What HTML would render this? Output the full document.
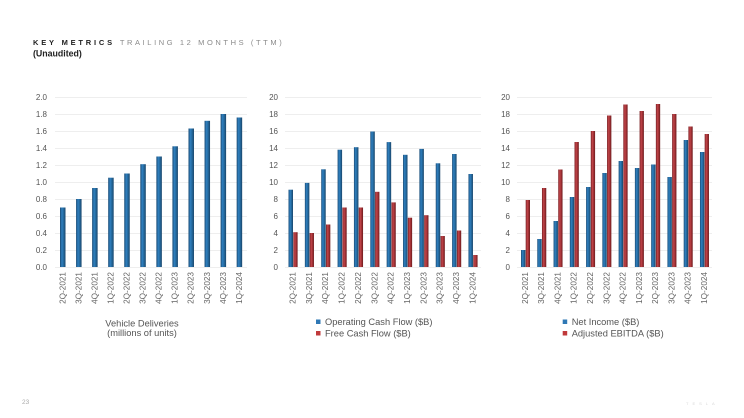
<!DOCTYPE html>
<html><head><meta charset="utf-8"><style>
html,body{margin:0;padding:0;background:#fff;}
body{width:744px;height:418px;overflow:hidden;font-family:"Liberation Sans",sans-serif;}
svg{display:block;}
</style></head><body>
<svg width="744" height="418" viewBox="0 0 744 418" xmlns="http://www.w3.org/2000/svg" font-family="Liberation Sans, sans-serif">
<defs>
<linearGradient id="gb" x1="0" x2="1" y1="0" y2="0">
<stop offset="0" stop-color="#1b4a72"/><stop offset="0.35" stop-color="#2f80c0"/><stop offset="0.7" stop-color="#236597"/><stop offset="1" stop-color="#194469"/>
</linearGradient>
<linearGradient id="gr" x1="0" x2="1" y1="0" y2="0">
<stop offset="0" stop-color="#741d20"/><stop offset="0.35" stop-color="#c2454a"/><stop offset="0.7" stop-color="#9b2e32"/><stop offset="1" stop-color="#6a1a1c"/>
</linearGradient>
</defs>

<!-- Title -->
<text x="33" y="45" font-size="7.5" font-weight="bold" fill="#222" letter-spacing="2.8">KEY METRICS <tspan font-weight="normal" fill="#8a8a8a" letter-spacing="2.6">TRAILING 12 MONTHS (TTM)</tspan></text>
<text x="33" y="56.5" font-size="8.8" font-weight="bold" fill="#222">(Unaudited)</text>

<!-- Gridlines -->
<g stroke="#eeeeee" stroke-width="1">
<path d="M55 97.5H247M55 114.5H247M55 131.5H247M55 148.5H247M55 165.5H247M55 182.5H247M55 199.5H247M55 216.5H247M55 233.5H247M55 250.5H247M55 267.5H247"/>
<path d="M285 97.5H481M285 114.5H481M285 131.5H481M285 148.5H481M285 165.5H481M285 182.5H481M285 199.5H481M285 216.5H481M285 233.5H481M285 250.5H481M285 267.5H481"/>
<path d="M517 97.5H712M517 114.5H712M517 131.5H712M517 148.5H712M517 165.5H712M517 182.5H712M517 199.5H712M517 216.5H712M517 233.5H712M517 250.5H712M517 267.5H712"/>
</g>

<!-- Y labels -->
<g font-size="8" fill="#555" text-anchor="end" dominant-baseline="central">
<text x="47" y="97.5">2.0</text><text x="47" y="114.5">1.8</text><text x="47" y="131.5">1.6</text><text x="47" y="148.5">1.4</text><text x="47" y="165.5">1.2</text><text x="47" y="182.5">1.0</text><text x="47" y="199.5">0.8</text><text x="47" y="216.5">0.6</text><text x="47" y="233.5">0.4</text><text x="47" y="250.5">0.2</text><text x="47" y="267.5">0.0</text>
<text x="278" y="97.5">20</text><text x="278" y="114.5">18</text><text x="278" y="131.5">16</text><text x="278" y="148.5">14</text><text x="278" y="165.5">12</text><text x="278" y="182.5">10</text><text x="278" y="199.5">8</text><text x="278" y="216.5">6</text><text x="278" y="233.5">4</text><text x="278" y="250.5">2</text><text x="278" y="267.5">0</text>
<text x="510" y="97.5">20</text><text x="510" y="114.5">18</text><text x="510" y="131.5">16</text><text x="510" y="148.5">14</text><text x="510" y="165.5">12</text><text x="510" y="182.5">10</text><text x="510" y="199.5">8</text><text x="510" y="216.5">6</text><text x="510" y="233.5">4</text><text x="510" y="250.5">2</text><text x="510" y="267.5">0</text>
</g>

<!-- Chart 1 bars -->
<g fill="url(#gb)">
<rect x="60" y="207.5" width="5.5" height="59.5"/>
<rect x="76.06" y="199" width="5.5" height="68"/>
<rect x="92.12" y="188" width="5.5" height="79"/>
<rect x="108.18" y="177.7" width="5.5" height="89.3"/>
<rect x="124.24" y="173.5" width="5.5" height="93.5"/>
<rect x="140.3" y="164.2" width="5.5" height="102.8"/>
<rect x="156.36" y="156.5" width="5.5" height="110.5"/>
<rect x="172.42" y="146.3" width="5.5" height="120.7"/>
<rect x="188.48" y="128.5" width="5.5" height="138.5"/>
<rect x="204.54" y="120.8" width="5.5" height="146.2"/>
<rect x="220.6" y="114" width="5.5" height="153"/>
<rect x="236.66" y="117.5" width="5.5" height="149.5"/>
</g>

<!-- Chart 2 bars -->
<g fill="url(#gb)">
<rect x="288.5" y="189.7" width="4.5" height="77.3"/>
<rect x="304.86" y="182.9" width="4.5" height="84.1"/>
<rect x="321.22" y="169.3" width="4.5" height="97.7"/>
<rect x="337.58" y="149.7" width="4.5" height="117.3"/>
<rect x="353.94" y="147.2" width="4.5" height="119.8"/>
<rect x="370.3" y="131.5" width="4.5" height="135.5"/>
<rect x="386.66" y="142.1" width="4.5" height="124.9"/>
<rect x="403.02" y="154.8" width="4.5" height="112.2"/>
<rect x="419.38" y="148.9" width="4.5" height="118.1"/>
<rect x="435.74" y="163.3" width="4.5" height="103.7"/>
<rect x="452.1" y="154" width="4.5" height="113"/>
<rect x="468.46" y="174" width="4.5" height="93"/>
</g>
<g fill="url(#gr)">
<rect x="293.3" y="232.2" width="4.3" height="34.8"/>
<rect x="309.66" y="233" width="4.3" height="34"/>
<rect x="326.02" y="224.5" width="4.3" height="42.5"/>
<rect x="342.38" y="207.5" width="4.3" height="59.5"/>
<rect x="358.74" y="207.5" width="4.3" height="59.5"/>
<rect x="375.1" y="191.8" width="4.3" height="75.2"/>
<rect x="391.46" y="202.4" width="4.3" height="64.6"/>
<rect x="407.82" y="217.7" width="4.3" height="49.3"/>
<rect x="424.18" y="215.2" width="4.3" height="51.8"/>
<rect x="440.54" y="236" width="4.3" height="31"/>
<rect x="456.9" y="230.5" width="4.3" height="36.5"/>
<rect x="473.26" y="255" width="4.3" height="12"/>
</g>

<!-- Chart 3 bars -->
<g fill="url(#gb)">
<rect x="521" y="250" width="4.4" height="17"/>
<rect x="537.27" y="239" width="4.4" height="28"/>
<rect x="553.54" y="221" width="4.4" height="46"/>
<rect x="569.81" y="197" width="4.4" height="70"/>
<rect x="586.08" y="187" width="4.4" height="80"/>
<rect x="602.35" y="173" width="4.4" height="94"/>
<rect x="618.62" y="161" width="4.4" height="106"/>
<rect x="634.89" y="168" width="4.4" height="99"/>
<rect x="651.16" y="164.5" width="4.4" height="102.5"/>
<rect x="667.43" y="177" width="4.4" height="90"/>
<rect x="683.7" y="140" width="4.4" height="127"/>
<rect x="699.97" y="152" width="4.4" height="115"/>
</g>
<g fill="url(#gr)">
<rect x="525.7" y="200" width="4.3" height="67"/>
<rect x="541.97" y="188" width="4.3" height="79"/>
<rect x="558.24" y="169.5" width="4.3" height="97.5"/>
<rect x="574.51" y="142" width="4.3" height="125"/>
<rect x="590.78" y="131" width="4.3" height="136"/>
<rect x="607.05" y="115.5" width="4.3" height="151.5"/>
<rect x="623.32" y="104.5" width="4.3" height="162.5"/>
<rect x="639.59" y="111" width="4.3" height="156"/>
<rect x="655.86" y="104" width="4.3" height="163"/>
<rect x="672.13" y="114" width="4.3" height="153"/>
<rect x="688.4" y="126.5" width="4.3" height="140.5"/>
<rect x="704.67" y="134" width="4.3" height="133"/>
</g>

<!-- X tick labels -->
<g font-size="8.2" fill="#666" text-anchor="end" dominant-baseline="central">
<text transform="translate(62.8,272) rotate(-90)">2Q-2021</text>
<text transform="translate(78.8,272) rotate(-90)">3Q-2021</text>
<text transform="translate(94.9,272) rotate(-90)">4Q-2021</text>
<text transform="translate(110.9,272) rotate(-90)">1Q-2022</text>
<text transform="translate(127,272) rotate(-90)">2Q-2022</text>
<text transform="translate(143,272) rotate(-90)">3Q-2022</text>
<text transform="translate(159.1,272) rotate(-90)">4Q-2022</text>
<text transform="translate(175.2,272) rotate(-90)">1Q-2023</text>
<text transform="translate(191.2,272) rotate(-90)">2Q-2023</text>
<text transform="translate(207.3,272) rotate(-90)">3Q-2023</text>
<text transform="translate(223.4,272) rotate(-90)">4Q-2023</text>
<text transform="translate(239.4,272) rotate(-90)">1Q-2024</text>

<text transform="translate(293,272) rotate(-90)">2Q-2021</text>
<text transform="translate(309.4,272) rotate(-90)">3Q-2021</text>
<text transform="translate(325.7,272) rotate(-90)">4Q-2021</text>
<text transform="translate(342.1,272) rotate(-90)">1Q-2022</text>
<text transform="translate(358.4,272) rotate(-90)">2Q-2022</text>
<text transform="translate(374.8,272) rotate(-90)">3Q-2022</text>
<text transform="translate(391.2,272) rotate(-90)">4Q-2022</text>
<text transform="translate(407.5,272) rotate(-90)">1Q-2023</text>
<text transform="translate(423.9,272) rotate(-90)">2Q-2023</text>
<text transform="translate(440.2,272) rotate(-90)">3Q-2023</text>
<text transform="translate(456.6,272) rotate(-90)">4Q-2023</text>
<text transform="translate(473,272) rotate(-90)">1Q-2024</text>

<text transform="translate(525.4,272) rotate(-90)">2Q-2021</text>
<text transform="translate(541.7,272) rotate(-90)">3Q-2021</text>
<text transform="translate(557.9,272) rotate(-90)">4Q-2021</text>
<text transform="translate(574.2,272) rotate(-90)">1Q-2022</text>
<text transform="translate(590.5,272) rotate(-90)">2Q-2022</text>
<text transform="translate(606.8,272) rotate(-90)">3Q-2022</text>
<text transform="translate(623,272) rotate(-90)">4Q-2022</text>
<text transform="translate(639.3,272) rotate(-90)">1Q-2023</text>
<text transform="translate(655.6,272) rotate(-90)">2Q-2023</text>
<text transform="translate(671.8,272) rotate(-90)">3Q-2023</text>
<text transform="translate(688.1,272) rotate(-90)">4Q-2023</text>
<text transform="translate(704.4,272) rotate(-90)">1Q-2024</text>
</g>

<!-- Chart 1 axis title -->
<g font-size="9.3" fill="#555" text-anchor="middle" dominant-baseline="central">
<text x="142" y="323.3">Vehicle Deliveries</text>
<text x="142" y="333">(millions of units)</text>
</g>

<!-- Legends -->
<rect x="316" y="319.5" width="4.5" height="4.5" fill="#2f78b5"/>
<rect x="316" y="331" width="4.5" height="4.5" fill="#c0393b"/>
<g font-size="9.3" fill="#555" dominant-baseline="central">
<text x="325" y="321.8">Operating Cash Flow ($B)</text>
<text x="325" y="333.3">Free Cash Flow ($B)</text>
<text x="571.7" y="321.8">Net Income ($B)</text>
<text x="571.7" y="333.3">Adjusted EBITDA ($B)</text>
</g>
<rect x="562.7" y="319.5" width="4.5" height="4.5" fill="#2f78b5"/>
<rect x="562.7" y="331" width="4.5" height="4.5" fill="#c0393b"/>

<!-- Footer -->
<text x="22" y="404" font-size="6.5" fill="#aaa">23</text>
<text x="686" y="405" font-size="4" fill="#d8d8d8" letter-spacing="4">TESLA</text>
</svg>
</body></html>
